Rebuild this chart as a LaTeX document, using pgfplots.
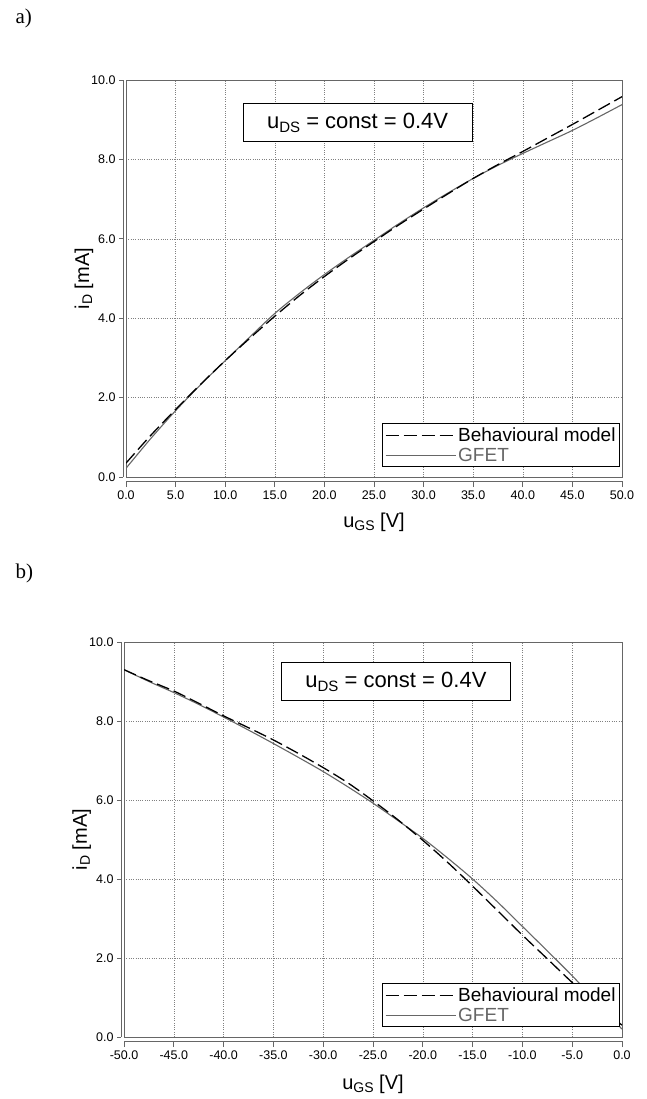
\documentclass[border=0pt]{standalone}
\usepackage{pgfplots}
\pgfplotsset{compat=1.18}
\usepackage{fontspec}
\setmainfont{Liberation Sans}
\newfontfamily\seriffont{Liberation Serif}
\newcommand{\fs}[1]{\fontsize{#1}{#1}\selectfont}
\pgfplotstableread{
x y
0 0.35
2.5 1.05
5 1.7
7.5 2.33
10 2.93
12.5 3.5
15 4.05
17.5 4.57
20 5.05
22.5 5.5
25 5.93
27.5 6.35
30 6.75
32.5 7.14
35 7.52
37.5 7.87
40 8.2
42.5 8.54
45 8.88
47.5 9.23
50 9.58
}\behA
\pgfplotstableread{
x y
0 0.22
2.5 0.97
5 1.67
7.5 2.32
10 2.93
12.5 3.53
15 4.12
17.5 4.63
20 5.1
22.5 5.54
25 5.96
27.5 6.38
30 6.78
32.5 7.16
35 7.52
37.5 7.85
40 8.15
42.5 8.44
45 8.73
47.5 9.05
50 9.38
}\gfetA
\pgfplotstableread{
x y
-50 9.3
-47.5 9.02
-45 8.76
-42.5 8.45
-40 8.13
-37.5 7.83
-35 7.52
-32.5 7.18
-30 6.82
-27.5 6.43
-25 5.98
-22.5 5.5
-20 4.98
-17.5 4.42
-15 3.82
-12.5 3.2
-10 2.58
-7.5 1.98
-5 1.38
-2.5 0.82
0 0.3
}\behB
\pgfplotstableread{
x y
-50 9.3
-47.5 9.0
-45 8.72
-42.5 8.42
-40 8.1
-37.5 7.77
-35 7.43
-32.5 7.08
-30 6.72
-27.5 6.33
-25 5.92
-22.5 5.48
-20 5.03
-17.5 4.53
-15 4.0
-12.5 3.42
-10 2.8
-7.5 2.18
-5 1.55
-2.5 0.88
0 0.2
}\gfetB
\begin{document}
\begin{tikzpicture}
\useasboundingbox (0pt,0pt) rectangle (647pt,-1099pt);
\pgfplotsset{
 mainax/.style={scale only axis, ymin=0, ymax=10,
   axis line style={black!60, line width=0.8pt},
   grid=major, grid style={black!50, line width=0.6pt, dash pattern=on 0.7pt off 1.6pt},
   ytick={0,2,...,10}, major tick length=0pt, xticklabels={}, yticklabels={},
   legend style={at={(rel axis cs:0.996,0.025)}, anchor=south east, draw=black, line width=0.9pt,
     font=\fontsize{19}{23}\selectfont, inner xsep=2pt, inner ysep=2pt, row sep=1pt, cells={anchor=west}},
   xlabel style={anchor=center, font=\fs{20}},
   ylabel style={anchor=center, font=\fs{20}},
   reverse legend,
 },
 xax/.style={scale only axis, ymin=0, ymax=10, axis x line*=bottom, axis y line=none,
   tick align=outside, major tick length=6pt,
   axis line style={black!60, line width=0.8pt}, tick style={black!60, line width=0.8pt},
   xticklabel style={font=\fs{12.5}}},
 yax/.style={scale only axis, ymin=0, ymax=10, axis y line*=left, axis x line=none,
   tick align=outside, major tick length=4pt,
   axis line style={black!60, line width=0.8pt}, tick style={black!60, line width=0.8pt},
   ytick={0,2,...,10}, yticklabels={0.0,2.0,4.0,6.0,8.0,10.0},
   yticklabel style={font=\fs{12.5}}},
}
\node[font=\seriffont\fs{21}, anchor=west] at (12pt,-18pt) {a)};
\node[font=\seriffont\fs{21}, anchor=west] at (12pt,-573pt) {b)};
% ---------------- plot a
\begin{axis}[xax, at={(126pt,-481pt)}, anchor=south west, width=496pt, height=397pt, xmin=0, xmax=50,
  xtick={0,5,...,50}, xticklabels={0.0,5.0,10.0,15.0,20.0,25.0,30.0,35.0,40.0,45.0,50.0}]
\end{axis}
\begin{axis}[yax, at={(123pt,-477pt)}, anchor=south west, width=496pt, height=397pt, xmin=0, xmax=50]
\end{axis}
\begin{axis}[mainax, at={(126pt,-477pt)}, anchor=south west, width=496pt, height=397pt, xmin=0, xmax=50,
  xtick={0,5,...,50},
  xlabel={u\raisebox{-3pt}{\fs{14}GS} [V]},
  xlabel style={at={(axis description cs:0.5,-0.113)}},
  ylabel={i\raisebox{-3pt}{\fs{14}D} [mA]},
  ylabel style={at={(axis description cs:-0.085,0.5)}},
  legend image code/.code={\draw[#1, dash phase=0pt] (0pt,0pt) -- (70pt,0pt);}]
\addplot[black!60, line width=1.1pt, smooth] table {\gfetA};
\addplot[black, line width=1.3pt, dash pattern=on 13pt off 5pt, smooth] table {\behA};
\legend{\textcolor{black!60}{GFET}, Behavioural model}
\node[draw=black, line width=0.9pt, fill=white, minimum width=229pt, minimum height=38pt,
  inner sep=0pt, font=\fs{22}] at (rel axis cs:0.467,0.892) {u\raisebox{-4pt}{\fs{15}DS} = const = 0.4V};
\end{axis}
% ---------------- plot b
\begin{axis}[xax, at={(124pt,-1041pt)}, anchor=south west, width=498pt, height=395pt, xmin=-50, xmax=0,
  xtick={-50,-45,...,0}, xticklabels={-50.0,-45.0,-40.0,-35.0,-30.0,-25.0,-20.0,-15.0,-10.0,-5.0,0.0}]
\end{axis}
\begin{axis}[yax, at={(121pt,-1037pt)}, anchor=south west, width=498pt, height=395pt, xmin=-50, xmax=0]
\end{axis}
\begin{axis}[mainax, at={(124pt,-1037pt)}, anchor=south west, width=498pt, height=395pt, xmin=-50, xmax=0,
  xtick={-50,-45,...,0},
  xlabel={u\raisebox{-3pt}{\fs{14}GS} [V]},
  xlabel style={at={(axis description cs:0.5,-0.12)}},
  ylabel={i\raisebox{-3pt}{\fs{14}D} [mA]},
  ylabel style={at={(axis description cs:-0.085,0.5)}},
  legend image code/.code={\draw[#1, dash phase=0pt] (0pt,0pt) -- (70pt,0pt);}]
\addplot[black!60, line width=1.1pt, smooth] table {\gfetB};
\addplot[black, line width=1.3pt, dash pattern=on 13pt off 5pt, smooth] table {\behB};
\legend{\textcolor{black!60}{GFET}, Behavioural model}
\node[draw=black, line width=0.9pt, fill=white, minimum width=229pt, minimum height=38pt,
  inner sep=0pt, font=\fs{22}] at (rel axis cs:0.546,0.899) {u\raisebox{-4pt}{\fs{15}DS} = const = 0.4V};
\end{axis}
\end{tikzpicture}
\end{document}
